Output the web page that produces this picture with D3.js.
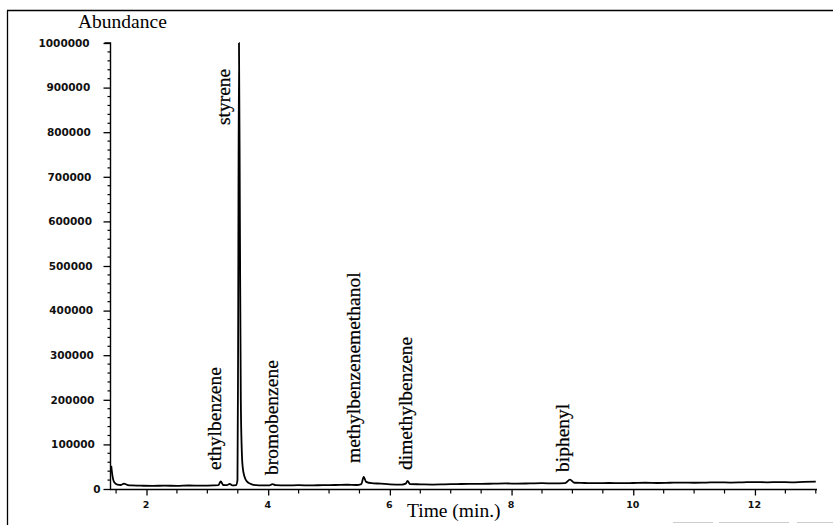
<!DOCTYPE html>
<html>
<head>
<meta charset="utf-8">
<script src="https://cdn.jsdelivr.net/npm/d3@7/dist/d3.min.js"></script>
<style>
  html, body { margin: 0; padding: 0; background: #fff; }
  svg { display: block; }
</style>
</head>
<body>
<svg id="chart" width="833" height="525"></svg>
<script>
// ---- data ----
const traceTime = [1.42,1.44,1.47,1.52,1.58,1.63,1.68,1.75,1.9,2.1,2.3,2.5,2.7,2.9,3.1,3.18,3.22,3.26,3.32,3.37,3.41,3.47,
  3.495,3.505,3.52,3.535,3.55,3.565,3.58,3.61,3.65,3.72,3.8,3.9,4.02,4.07,4.12,4.3,4.5,4.7,4.9,5.1,5.3,5.45,5.53,5.57,5.61,
  5.7,5.85,6.0,6.2,6.26,6.29,6.33,6.5,6.7,6.9,7.1,7.3,7.5,7.7,7.9,8.1,8.3,8.5,8.7,8.88,8.96,9.03,9.2,9.4,9.6,9.8,10.0,10.2,
  10.4,10.6,10.8,11.0,11.2,11.4,11.6,11.8,12.0,12.2,12.4,12.6,12.8,13.0];
const traceAbundance = [52000,30000,15000,10000,9000,12000,9500,8000,7500,7000,7500,7000,7800,7500,8000,8500,17000,9000,8500,11500,8000,8500,
  20000,300000,1000000,600000,200000,90000,50000,28000,17000,11000,8500,8000,8000,11000,8500,8000,8500,8000,8800,9000,9500,9000,11000,27000,16000,
  13000,12000,10500,10000,12000,18000,11000,10500,10000,10500,11000,11500,11500,12000,12500,12000,12500,13000,12500,13000,21000,14000,13500,13000,13500,13000,13500,14000,
  13500,14000,14500,14000,14500,15000,14500,15000,15500,15000,15500,15000,16000,16500];

const peakNames = ["ethylbenzene","styrene","bromobenzene","methylbenzenemethanol","dimethylbenzene","biphenyl"];
const peakLabelTime = [3.224,3.372,4.161,5.509,6.364,8.944];
const peakLabelAbundance = [42600,816000,31400,58300,42600,38100];

const xTickValues = [2,4,6,8,10,12];
const yTickValues = [0,100000,200000,300000,400000,500000,600000,700000,800000,900000,1000000];
const xLabel = "Time (min.)";
const yLabel = "Abundance";

// ---- drawing ----
const svg = d3.select("#chart");
const x = d3.scaleLinear().domain([1.4, 13.02]).range([110, 817]);
const y = d3.scaleLinear().domain([0, 1000000]).range([489, 43]);

// outer frame (left and top only, as in the scan)
svg.append("line").attr("x1",7.5).attr("x2",7.5).attr("y1",10.5).attr("y2",525)
  .attr("stroke","#000").attr("stroke-width",1.3);
svg.append("line").attr("x1",7).attr("x2",833).attr("y1",10.5).attr("y2",10.5)
  .attr("stroke","#000").attr("stroke-width",1.6);
svg.append("line").attr("x1",673).attr("x2",833).attr("y1",522.5).attr("y2",522.5)
  .attr("stroke","#ccc").attr("stroke-width",1).attr("stroke-dasharray","40,6,70,8");

const tickFont = "'DejaVu Sans', sans-serif";
const serif = "'Liberation Serif', 'Times New Roman', serif";

// y axis
const yMinor = d3.range(0, 1000001, 20000);
const yAxis = d3.axisLeft(y).tickValues(yTickValues).tickFormat(d3.format("d")).tickSize(7).tickPadding(14);
const gy = svg.append("g").attr("transform","translate(110.5,0)").call(yAxis);
gy.select(".domain").attr("stroke","#000").attr("stroke-width",1.4).attr("d", `M0,${y(0)}V${y(1000000)}H-6`);
gy.selectAll(".tick line").attr("stroke","#000").attr("stroke-width",1.3);
gy.selectAll(".tick text").attr("font-family",tickFont).attr("font-weight","bold")
  .attr("font-size","10.5px").attr("fill","#111")
  .attr("x", d => d === 0 ? -10 : -21 + d / 250000);
gy.selectAll(".minor").data(yMinor.filter(v => v % 100000 !== 0)).enter()
  .append("line").attr("class","minor")
  .attr("x1",-3).attr("x2",0).attr("y1",d=>y(d)).attr("y2",d=>y(d))
  .attr("stroke","#000").attr("stroke-width",1.2);
// make the 'x' attr trend match the scan: labels drift slightly left toward the top
gy.selectAll(".tick text").attr("x", d => d === 0 ? -10 : -(15 + d / 170000));

// x axis
const xMinor = d3.range(1.5, 13.01, 0.5);
const xAxis = d3.axisBottom(x).tickValues(xTickValues).tickFormat(d3.format("d")).tickSize(6).tickPadding(6);
const gx = svg.append("g").attr("transform","translate(0,489.5)").call(xAxis);
gx.select(".domain").attr("stroke","#000").attr("stroke-width",1.4).attr("d", `M${x(1.4)},0H${x(13.02)}`);
gx.selectAll(".tick line").attr("stroke","#000").attr("stroke-width",1.3);
gx.selectAll(".tick text").attr("font-family",tickFont).attr("font-weight","bold")
  .attr("font-size","9.5px").attr("fill","#111").attr("dx", "-1");
gx.selectAll(".minor").data(xMinor.filter(v => v % 2 !== 0)).enter()
  .append("line").attr("class","minor")
  .attr("x1",d=>x(d)).attr("x2",d=>x(d)).attr("y1",0).attr("y2",4)
  .attr("stroke","#000").attr("stroke-width",1.2);

// axis titles
svg.append("text").attr("x",78).attr("y",28).attr("font-family",serif).attr("font-size","19.5px")
  .attr("fill","#000").text(yLabel);
svg.append("text").attr("x",407).attr("y",517).attr("font-family",serif).attr("font-size","19.5px")
  .attr("fill","#000").text(xLabel);

// trace
const pts = traceTime.map((t,i) => [t, traceAbundance[i]]);
const line = d3.line().x(d => x(d[0])).y(d => y(d[1])).curve(d3.curveMonotoneX);
svg.append("path").datum(pts).attr("d", line).attr("fill","none")
  .attr("stroke","#000").attr("stroke-width",1.8).attr("stroke-linejoin","round");

// peak labels
svg.selectAll(".peak").data(peakNames).enter().append("text").attr("class","peak")
  .attr("transform",(d,i) => `translate(${x(peakLabelTime[i])},${y(peakLabelAbundance[i])}) rotate(-90)`)
  .attr("font-family",serif).attr("font-size","19.5px").attr("fill","#000")
  .attr("stroke","#000").attr("stroke-width",0.25)
  .text(d => d);
</script>
</body>
</html>
